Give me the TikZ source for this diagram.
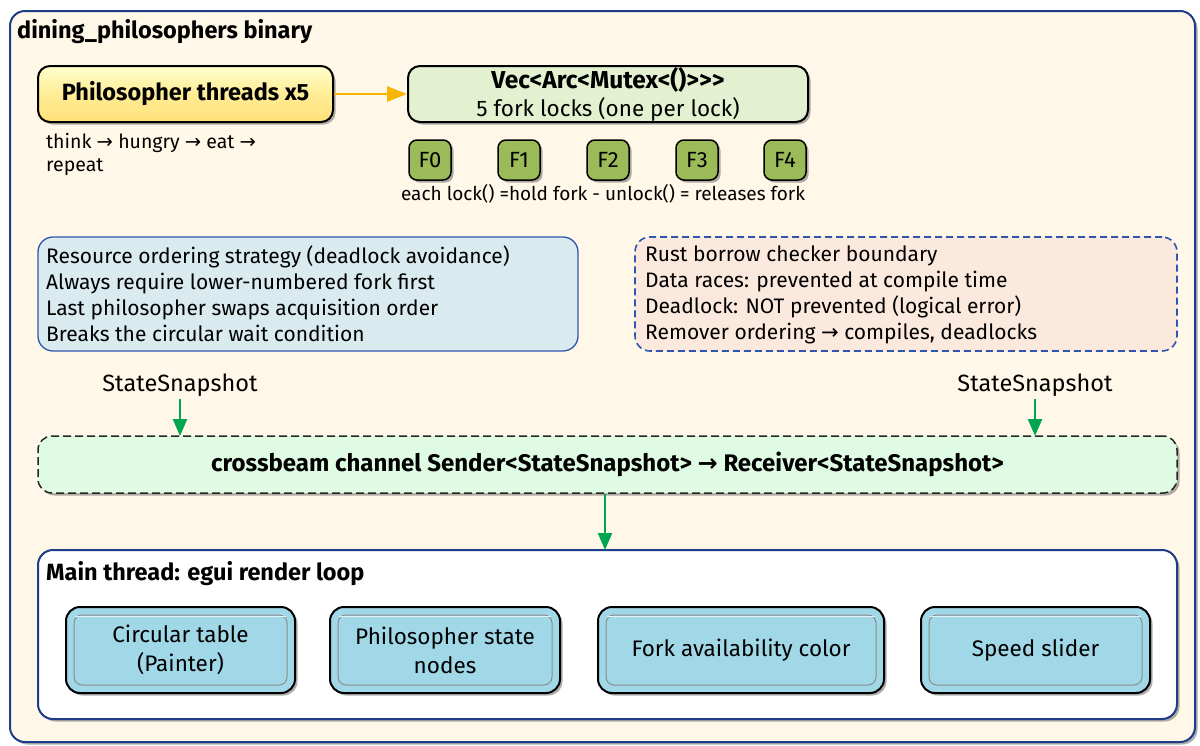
\documentclass[tikz,border=0pt]{standalone}
\usepackage{fontspec}
\setmainfont{Fira Sans}
\newfontfamily\arr{DejaVu Sans}
\usetikzlibrary{shadows,arrows.meta}
\definecolor{outerblue}{HTML}{1F3C88}
\definecolor{cream}{HTML}{FFF8E8}
\definecolor{boxblue}{HTML}{2F55B0}
\definecolor{paleblue}{HTML}{DAEBF0}
\definecolor{peach}{HTML}{FCE9DE}
\definecolor{mint}{HTML}{DFFBE3}
\definecolor{arrgreen}{HTML}{00A64F}
\definecolor{arryellow}{HTML}{F7B500}
\definecolor{forkgreen}{HTML}{9BBB59}
\definecolor{vecgreen}{HTML}{E4F1D0}
\definecolor{cyanbox}{HTML}{A0D8E8}
\newcommand{\ra}{{\arr →}}
\begin{document}
\begin{tikzpicture}[x=1pt,y=-1pt,
  every node/.style={inner sep=0pt, font=\fontsize{21}{26}\selectfont},
  shad/.style={drop shadow={shadow xshift=2.5pt, shadow yshift=-2.5pt, opacity=0.45, fill=black!70}},
  solidbox/.style={draw=black, line width=2pt, rounded corners=12pt, shad, align=center},
  panel/.style={rounded corners=15pt, line width=1.3pt, align=left},
  forkbox/.style={solidbox, fill=forkgreen, rounded corners=8pt, minimum width=42pt, minimum height=40pt, line width=1.5pt, font=\fontsize{22}{26}\selectfont},
  uibox/.style={solidbox, fill=cyanbox, minimum height=86pt, rounded corners=14pt, font=\fontsize{22.5}{29}\selectfont},
  bevel/.style={draw=black!45, line width=1pt, rounded corners=8pt},
  garrow/.style={draw=arrgreen, line width=2.4pt, -{Triangle[length=17pt,width=14pt]}},
  yarrow/.style={draw=arryellow, line width=2.4pt, -{Triangle[length=20pt,width=15pt]}},
  boldlbl/.style={font=\bfseries\fontsize{23.5}{28}\selectfont}
]
\useasboundingbox (0,0) rectangle (1200,745);
% outer container
\node[panel, draw=outerblue, fill=cream, line width=2pt, shad, minimum width=1185pt, minimum height=731pt] (outer) at (602.5,376.5) {};
\node[anchor=west, boldlbl] (title) at (17,32) {dining\_philosophers binary};

% philosopher threads
\node[solidbox, top color=yellow!20!white, bottom color={rgb,255:red,255;green,225;blue,120}, middle color={rgb,255:red,255;green,236;blue,150}, minimum width=295pt, minimum height=56pt, boldlbl] (phil) at (185.5,94) {Philosopher threads x5};
\node[anchor=north west, align=left, font=\fontsize{19.5}{23}\selectfont] (cycle) at (46,133) {think \ra{} hungry \ra{} eat \ra\\repeat};

% vec box
\node[solidbox, fill=vecgreen, minimum width=400pt, minimum height=56pt, font=\fontsize{22.5}{28}\selectfont] (vec) at (608,94) {{\bfseries\fontsize{24.5}{28}\selectfont Vec<Arc<Mutex<()>{}>{}>}\\5 fork locks (one per lock)};
\draw[yarrow] (phil.east) -- (vec.west);

% forks
\node[forkbox] (f0) at (430,160) {F0};
\node[forkbox] (f1) at (519,160) {F1};
\node[forkbox] (f2) at (608,160) {F2};
\node[forkbox] (f3) at (697,160) {F3};
\node[forkbox] (f4) at (785,160) {F4};
\node[font=\fontsize{19}{22}\selectfont] (forkcap) at (603,194) {each lock() =hold fork - unlock() = releases fork};

% strategy panel
\node[panel, draw=boxblue, fill=paleblue, minimum width=540pt, minimum height=114pt] (strat) at (308,294) {};
\node[anchor=north west, align=left] (strattext) at (46,245.5) {Resource ordering strategy (deadlock avoidance)\\Always require lower-numbered fork first\\Last philosopher swaps acquisition order\\Breaks the circular wait condition};

% borrow checker panel
\node[panel, draw=boxblue, fill=peach, line width=1.6pt, dash pattern=on 7pt off 4pt, minimum width=542pt, minimum height=114pt] (rust) at (906,294) {};
\node[anchor=north west, align=left] (rusttext) at (645,245.5) {Rust borrow checker boundary\\Data races: prevented at compile time\\Deadlock: NOT prevented (logical error)\\Remover ordering \ra{} compiles, deadlocks};

% channel
\node[draw=black!85, line width=1.5pt, dash pattern=on 8pt off 4pt, rounded corners=14pt, fill=mint, shad, minimum width=1139pt, minimum height=57pt, font=\bfseries\fontsize{24}{28}\selectfont] (chan) at (607.5,464.5) {crossbeam channel Sender<StateSnapshot> \ra{} Receiver<StateSnapshot>};
\node[font=\fontsize{23.5}{28}\selectfont] (ss1) at (180,385) {StateSnapshot};
\node[font=\fontsize{23.5}{28}\selectfont] (ss2) at (1035,385) {StateSnapshot};
\coordinate (c1) at (180,436);
\coordinate (c2) at (1035,436);
\draw[garrow] (ss1.south) ++(0,3) -- (c1);
\draw[garrow] (ss2.south) ++(0,3) -- (c2);

% main thread
\node[panel, draw=outerblue, fill=white, line width=2pt, shad, minimum width=1139pt, minimum height=169pt] (main) at (607.5,634.5) {};
\node[anchor=west, boldlbl] (maintitle) at (46,574) {Main thread: egui render loop};
\coordinate (mtop) at (605,550);
\draw[garrow] (mtop |- chan.south) -- (mtop);

% ui boxes
\node[uibox, minimum width=229pt] (u1) at (180.5,650) {Circular table\\(Painter)};
\node[uibox, minimum width=230pt] (u2) at (445,650) {Philosopher state\\nodes};
\node[uibox, minimum width=286pt] (u3) at (741,650) {Fork availability color};
\node[uibox, minimum width=229pt] (u4) at (1035.5,650) {Speed slider};
\foreach \u in {u1,u2,u3,u4}{
  \draw[bevel] ([xshift=9pt,yshift=-9pt]\u.north west) rectangle ([xshift=-9pt,yshift=9pt]\u.south east);
  \draw[white!70!cyanbox, line width=0.8pt, rounded corners=8pt] ([xshift=10pt,yshift=-10.5pt]\u.north west) -- ([xshift=-10pt,yshift=-10.5pt]\u.north east);
}
\end{tikzpicture}
\end{document}
